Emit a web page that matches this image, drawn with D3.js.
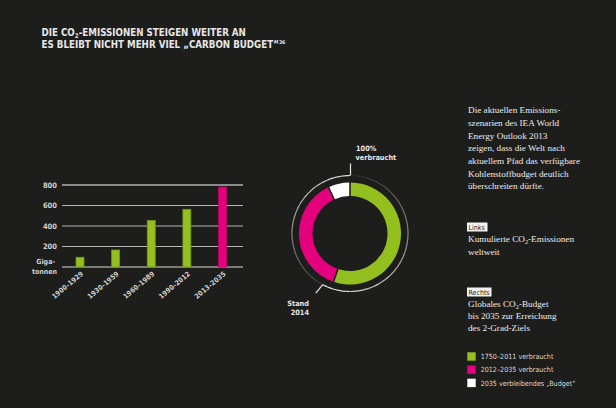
<!DOCTYPE html>
<html><head><meta charset="utf-8">
<script src="https://cdn.jsdelivr.net/npm/d3@7"></script>
<style>
html,body{margin:0;padding:0;background:#1d1d1b;}
svg{display:block;}
</style></head>
<body>
<svg id="c" width="616" height="408"></svg>
<script>
// ---- data ----
const periods = ["1900–1929","1930–1959","1960–1989","1990–2012","2013–2035"];
const emissions = [95, 166, 455, 563, 780];
const periodType = ["hist","hist","hist","hist","future"];
const yTicks = [200, 400, 600, 800];
const budgetLabels = ["1750–2011 verbraucht","2012–2035 verbraucht","2035 verbleibendes „Budget“"];
const budgetShares = [55.5, 37.9, 6.6];
const paragraph = ["Die aktuellen Emissions-","szenarien des IEA World","Energy Outlook 2013","zeigen, dass die Welt nach","aktuellem Pfad das verfügbare","Kohlenstoffbudget deutlich","überschreiten dürfte."];

const GREEN = "#93c01f", PINK = "#e5007d", WHITE = "#ffffff";
const budgetColors = [GREEN, PINK, WHITE];
const sans = "'DejaVu Sans Condensed','DejaVu Sans',sans-serif";
const serif = "'Liberation Serif','DejaVu Serif',serif";

const svg = d3.select("#c");
svg.append("rect").attr("width",616).attr("height",408).attr("fill","#1d1d1b");

// ---- title ----
const title = svg.append("g").attr("font-family", sans).attr("font-weight","bold")
  .attr("font-size", 9.7).attr("fill", "#e6e6e6");
const t1 = title.append("text").attr("x", 41.5).attr("y", 35.5);
t1.append("tspan").text("DIE CO");
t1.append("tspan").attr("font-size", 6.3).attr("dy", 2).text("2");
t1.append("tspan").attr("dy", -2).text("-EMISSIONEN STEIGEN WEITER AN");
const t2 = title.append("text").attr("x", 41.5).attr("y", 47.8);
t2.append("tspan").text("ES BLEIBT NICHT MEHR VIEL „CARBON BUDGET“");
t2.append("tspan").attr("font-size", 5.2).attr("dy", -3.8).text("36");

// ---- bar chart ----
const x = d3.scalePoint().domain(periods).range([80, 222.5]);
const y = d3.scaleLinear().domain([0, 800]).range([267, 185]);
const barW = 8;

const grid = svg.append("g");
grid.selectAll("line.g").data(yTicks).join("line")
  .attr("x1", 62).attr("x2", 243)
  .attr("y1", d => y(d)).attr("y2", d => y(d))
  .attr("stroke", d => d === 800 ? "#8a8a8a" : "#b5b5b5")
  .attr("stroke-width", d => d === 800 ? 1.8 : 1);
grid.append("line").attr("x1", 62).attr("x2", 243)
  .attr("y1", y(0)).attr("y2", y(0)).attr("stroke", "#d8d8d8").attr("stroke-width", 1);

const yAxis = d3.axisLeft(y).tickValues(yTicks).tickSize(0).tickPadding(0);
const ya = svg.append("g").attr("transform", "translate(57,0)").call(yAxis);
ya.select(".domain").remove();
ya.selectAll("text").attr("font-family", sans).attr("font-size", 7.5)
  .attr("font-weight","bold").attr("fill", "#d0d0d0");

svg.append("g").attr("font-family", sans).attr("font-size", 7).attr("font-weight","bold")
  .attr("fill", "#d0d0d0").attr("text-anchor", "end")
  .selectAll("text").data(["Giga-","tonnen"]).join("text")
  .attr("x", d => d === "Giga-" ? 55 : 57).attr("y", (d,i) => 264 + i*9.5).text(d => d);

svg.append("g").selectAll("rect").data(periods).join("rect")
  .attr("x", d => x(d) - barW/2)
  .attr("y", (d,i) => y(emissions[i]))
  .attr("width", barW)
  .attr("height", (d,i) => y(0) - y(emissions[i]))
  .attr("fill", (d,i) => periodType[i] === "future" ? PINK : GREEN)
  .attr("stroke", (d,i) => periodType[i] === "future" ? "#c4006b" : "#6f9418")
  .attr("stroke-width", 0.8);

const xAxis = d3.axisBottom(x).tickSize(0).tickPadding(0);
const xa = svg.append("g").attr("transform", "translate(0,272)").call(xAxis);
xa.select(".domain").remove();
xa.selectAll("text").attr("font-family", sans).attr("font-size", 7)
  .attr("font-weight","bold").attr("fill", "#d0d0d0")
  .attr("text-anchor", "end").attr("dy", "0.5em")
  .attr("transform", "translate(1,0) rotate(-40)");

// ---- donut ----
const cx = 350, cy = 233.5;
const dg = svg.append("g").attr("transform", `translate(${cx},${cy})`);
const pie = d3.pie().sort(null).value(d => d).padAngle(0.025);
const arc = d3.arc().innerRadius(37.5).outerRadius(51);
dg.selectAll("path.s").data(pie(budgetShares)).join("path")
  .attr("d", arc).attr("fill", (d,i) => budgetColors[i]);

// outer fading ring
const R = 58, deg = Math.PI/180;
const standAngle = 208;
const thin = d3.arc().innerRadius(R - 0.6).outerRadius(R + 0.6);
const N = 80;
function fadeArc(a0, a1, o0, o1) {
  const segs = d3.range(N).map(k => {
    const s = a0 + (a1 - a0) * k / N, e = a0 + (a1 - a0) * (k + 1) / N;
    const t = k / (N - 1);
    return {startAngle: Math.min(s,e)*deg, endAngle: Math.max(s,e)*deg, op: o0 + (o1 - o0) * Math.pow(t, 1.3)};
  });
  dg.append("g").selectAll("path").data(segs).join("path")
    .attr("d", thin).attr("fill", "#e8e8e8").attr("opacity", d => d.op);
}
fadeArc(360, standAngle, 1, 0.12);
fadeArc(standAngle, 0, 1, 0.04);

// leader lines
dg.append("line").attr("x1", 0.5).attr("x2", 0.5).attr("y1", -R).attr("y2", -R - 12)
  .attr("stroke", "#e8e8e8").attr("stroke-width", 1.2);
const sx = R * Math.sin(standAngle*deg), sy = -R * Math.cos(standAngle*deg);
dg.append("line").attr("x1", sx).attr("y1", sy).attr("x2", sx - 7).attr("y2", sy + 8.5)
  .attr("stroke", "#e8e8e8").attr("stroke-width", 1.2);

const lab = svg.append("g").attr("font-family", sans).attr("font-size", 7.3)
  .attr("font-weight","bold").attr("fill", "#e6e6e6");
lab.append("text").attr("x", 356).attr("y", 150.5).text("100%");
lab.append("text").attr("x", 355.5).attr("y", 159.5).text("verbraucht");
lab.append("text").attr("x", 309).attr("y", 306).attr("text-anchor","end").text("Stand");
lab.append("text").attr("x", 309).attr("y", 315).attr("text-anchor","end").text("2014");

// ---- right text ----
svg.append("g").attr("font-family", serif).attr("font-size", 9.2).attr("fill", "#ececec")
  .selectAll("text").data(paragraph).join("text")
  .attr("x", 468).attr("y", (d,i) => 113.3 + i*12.65).text(d => d);

function tag(txt, yTop, w) {
  svg.append("rect").attr("x", 467).attr("y", yTop).attr("width", w).attr("height", 9).attr("fill", "#f2f2f2");
  svg.append("text").attr("x", 468.5).attr("y", yTop + 7.3).attr("font-family", sans)
    .attr("font-size", 7).attr("fill", "#1d1d1b").text(txt);
}
tag("Links", 222.5, 20.5);
tag("Rechts", 287.5, 24.5);

const body = svg.append("g").attr("font-family", serif).attr("font-size", 9.2).attr("fill", "#ececec");
function co2line(yy, pre, post) {
  const t = body.append("text").attr("x", 468).attr("y", yy);
  t.append("tspan").text(pre + "CO");
  t.append("tspan").attr("font-size", 6.3).attr("dy", 2).text("2");
  t.append("tspan").attr("dy", -2).text(post);
}
co2line(242.3, "Kumulierte ", "-Emissionen");
body.append("text").attr("x", 468).attr("y", 255).text("weltweit");
co2line(307, "Globales ", "-Budget");
body.append("text").attr("x", 468).attr("y", 319).text("bis 2035 zur Erreichung");
body.append("text").attr("x", 468).attr("y", 331).text("des 2-Grad-Ziels");

// ---- legend ----
const lg = svg.append("g").selectAll("g").data(budgetLabels).join("g")
  .attr("transform", (d,i) => `translate(467.3,${352.3 + i*13.2})`);
lg.append("rect").attr("width", 8.4).attr("height", 8.4).attr("fill", (d,i) => budgetColors[i]);
lg.append("text").attr("x", 13.4).attr("y", 6.8).attr("font-family", sans).attr("font-size", 7.1)
  .attr("fill", "#dcdcdc").text(d => d);
</script>
</body></html>
